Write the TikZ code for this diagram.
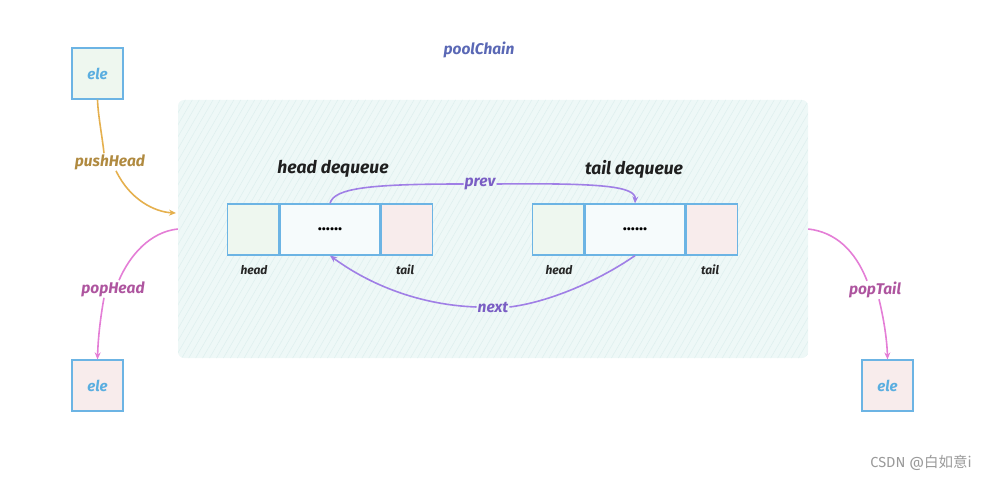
\documentclass[tikz,border=0pt]{standalone}
\usepackage{fontspec}
\setmainfont{Fira Sans}
\newfontfamily\cjkfont{Noto Sans CJK SC}
\usetikzlibrary{arrows.meta,patterns.meta}
\definecolor{boxblue}{HTML}{6CB4E4}
\definecolor{elegreen}{HTML}{EEF7EF}
\definecolor{elepink}{HTML}{F8ECEC}
\definecolor{poolfill}{HTML}{EEF8F7}
\definecolor{hatch}{HTML}{DDEFEE}
\definecolor{midfill}{HTML}{F6FBFC}
\definecolor{eletext}{HTML}{5AAEE0}
\definecolor{chaintext}{HTML}{5A68B5}
\definecolor{pvline}{HTML}{A07FE6}
\definecolor{pvtext}{HTML}{7A5EC4}
\definecolor{pushline}{HTML}{E5B04E}
\definecolor{pushtext}{HTML}{B08A40}
\definecolor{popline}{HTML}{E47ED6}
\definecolor{poptext}{HTML}{AE559F}
\definecolor{wmark}{HTML}{9A9A9A}
\tikzset{
  cellbox/.style={draw=boxblue, line width=1.2pt, minimum width=51pt, minimum height=51pt, inner sep=0pt},
  midbox/.style={cellbox, minimum width=100pt, fill=midfill, font=\fontsize{17}{17}\selectfont\bfseries},
  hd/.style={cellbox, fill=elegreen},
  tl/.style={cellbox, fill=elepink},
  elebox/.style={cellbox, font=\fontsize{15}{17}\selectfont\itshape\bfseries, text=eletext},
  lbl/.style={font=\fontsize{15.5}{17}\selectfont\itshape\bfseries, inner sep=1pt},
  small/.style={font=\fontsize{12}{14}\selectfont\itshape\bfseries, text=black!85},
  title/.style={font=\fontsize{17.5}{19}\selectfont\itshape\bfseries, text=black!88},
  pvarrow/.style={draw=pvline, line width=1.6pt, -{Stealth[length=7pt,width=6pt]}},
  pvplain/.style={draw=pvline, line width=1.6pt},
  pusharrow/.style={draw=pushline, line width=1.6pt, -{Stealth[length=7pt,width=6pt]}},
  pushplain/.style={draw=pushline, line width=1.6pt},
  poparrow/.style={draw=popline, line width=1.6pt, -{Stealth[length=7pt,width=6pt]}},
  popplain/.style={draw=popline, line width=1.6pt},
}
\begin{document}
\begin{tikzpicture}[x=1pt,y=-1pt]
\useasboundingbox (0,0) rectangle (992,481);
% pool
\node[fill=poolfill, rounded corners=6pt, minimum width=630pt, minimum height=258pt, inner sep=0pt,
  postaction={pattern={Lines[angle=60,distance=6pt,line width=0.5pt]}, pattern color=hatch}] (pool) at (493,229) {};
\node[lbl, text=chaintext] (chain) at (479,50) {poolChain};
% ele boxes
\node[elebox, fill=elegreen] (e1) at (97.5,73.5) {ele};
\node[elebox, fill=elepink] (e2) at (97.5,385.5) {ele};
\node[elebox, fill=elepink] (e3) at (887.5,385.5) {ele};
% left deque
\node[title] (t1) at (333,169) {head dequeue};
\node[midbox] (lm) at (330,229.5) {......};
\node[hd, anchor=east] (lh) at (lm.west) {};
\node[tl, anchor=west] (lt) at (lm.east) {};
\node[small] (lhl) at (254,270) {head};
\node[small] (ltl) at (405,270) {tail};
% right deque
\node[title] (t2) at (634,169) {tail dequeue};
\node[midbox] (rm) at (635,229.5) {......};
\node[hd, anchor=east] (rh) at (rm.west) {};
\node[tl, anchor=west] (rt) at (rm.east) {};
\node[small] (rhl) at (559,270) {head};
\node[small] (rtl) at (710,270) {tail};
% prev / next
\node[lbl, text=pvtext] (prev) at (480,184) {prev};
\node[lbl, text=pvtext] (next) at (493,307) {next};
\draw[pvplain] (lm.north) .. controls (334,188) and (370,184) .. (prev.west);
\draw[pvarrow] (prev.east) .. controls (600,183) and (636,186) .. (rm.north);
\draw[pvplain] (rm.south) .. controls (600,280) and (550,302) .. (next.east);
\draw[pvarrow] (next.west) .. controls (420,305) and (370,285) .. (lm.south);
% pushHead
\node[lbl, text=pushtext] (push) at (110,162) {pushHead};
\coordinate (pushend) at (176,213);
\draw[pushplain] (e1.south) .. controls (98,115) and (102,135) .. ([xshift=-6pt]push.north);
\draw[pusharrow] ([xshift=6pt]push.south) .. controls (130,200) and (155,212) .. (pushend);
% popHead
\node[lbl, text=poptext] (pophead) at (113,289) {popHead};
\draw[popplain] (pool.west) .. controls (150,232) and (130,255) .. ([xshift=6pt]pophead.north);
\draw[poparrow] ([xshift=-9pt]pophead.south) .. controls (100,320) and (98,340) .. (e2.north);
% popTail
\node[lbl, text=poptext] (poptail) at (875,290) {popTail};
\draw[popplain] (pool.east) .. controls (835,232) and (855,250) .. ([xshift=-8pt]poptail.north);
\draw[poparrow] ([xshift=4pt]poptail.south) .. controls (884,320) and (887,340) .. (e3.north);
% watermark
\node[text=wmark, font=\fontsize{14.5}{16}\selectfont] (wm) at (921,463) {CSDN @{\cjkfont 白如意}i};
\end{tikzpicture}
\end{document}
